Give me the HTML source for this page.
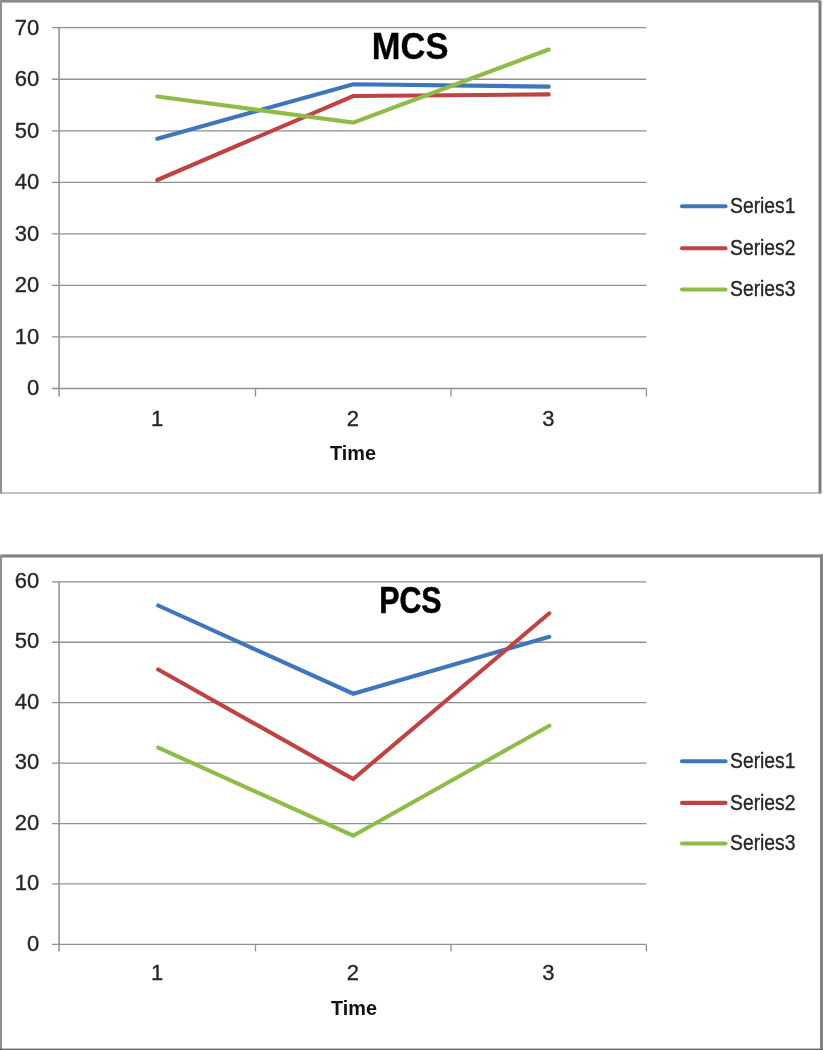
<!DOCTYPE html>
<html><head><meta charset="utf-8"><title>Charts</title>
<style>
html,body{margin:0;padding:0;background:#fff;}
svg{display:block;filter:blur(0.5px);}
text{font-family:"Liberation Sans",sans-serif;fill:#262626;}
.t{font-size:22px;stroke:#262626;stroke-width:0.35px;}
.tl{font-size:21.5px;stroke:#262626;stroke-width:0.35px;}
.tb{font-size:20px;font-weight:bold;fill:#111;}
.ti{font-size:36.5px;font-weight:bold;fill:#000;stroke:#000;stroke-linejoin:round;}
.g{stroke:#909090;stroke-width:1.3;}
.ga{stroke:#9a9a9a;stroke-width:1.7;}
</style></head>
<body>
<svg width="823" height="1050" viewBox="0 0 823 1050">
<rect x="0" y="0" width="823" height="1050" fill="#fff"/>
<rect x="0" y="0" width="819" height="2.6" fill="#8a8a8a"/>
<rect x="0" y="0" width="2" height="493.5" fill="#909090"/>
<rect x="818.5" y="0.5" width="3" height="493" fill="#7e7e7e"/>
<rect x="0" y="492.4" width="821" height="1.2" fill="#999"/>
<line x1="52.1" y1="388.50" x2="646.4" y2="388.50" class="g"/>
<text x="39.3" y="395.40" class="t" text-anchor="end">0</text>
<line x1="52.1" y1="336.96" x2="646.4" y2="336.96" class="g"/>
<text x="39.3" y="343.86" class="t" text-anchor="end">10</text>
<line x1="52.1" y1="285.41" x2="646.4" y2="285.41" class="g"/>
<text x="39.3" y="292.31" class="t" text-anchor="end">20</text>
<line x1="52.1" y1="233.87" x2="646.4" y2="233.87" class="g"/>
<text x="39.3" y="240.77" class="t" text-anchor="end">30</text>
<line x1="52.1" y1="182.33" x2="646.4" y2="182.33" class="g"/>
<text x="39.3" y="189.23" class="t" text-anchor="end">40</text>
<line x1="52.1" y1="130.79" x2="646.4" y2="130.79" class="g"/>
<text x="39.3" y="137.69" class="t" text-anchor="end">50</text>
<line x1="52.1" y1="79.24" x2="646.4" y2="79.24" class="g"/>
<text x="39.3" y="86.14" class="t" text-anchor="end">60</text>
<line x1="52.1" y1="27.70" x2="646.4" y2="27.70" class="g"/>
<text x="39.3" y="34.60" class="t" text-anchor="end">70</text>
<line x1="59.1" y1="27.70" x2="59.1" y2="396.50" class="ga"/>
<line x1="255.50" y1="388.50" x2="255.50" y2="396.50" class="g"/>
<line x1="451.00" y1="388.50" x2="451.00" y2="396.50" class="g"/>
<line x1="646.40" y1="388.50" x2="646.40" y2="396.50" class="g"/>
<polyline points="157.3,138.8 353.2,84.2 548.7,86.6" fill="none" stroke="#3F75BB" stroke-width="4.1" stroke-linecap="round" stroke-linejoin="miter"/>
<polyline points="157.3,180.0 353.2,96.0 548.7,94.4" fill="none" stroke="#BF4343" stroke-width="4.1" stroke-linecap="round" stroke-linejoin="miter"/>
<polyline points="157.3,96.5 353.2,122.6 548.7,49.5" fill="none" stroke="#91BB49" stroke-width="4.1" stroke-linecap="round" stroke-linejoin="miter"/>
<text x="371.8" y="59.0" class="ti" style="stroke-width:0.3px" textLength="76.6" lengthAdjust="spacingAndGlyphs">MCS</text>
<text x="157.0" y="425.5" class="t" text-anchor="middle">1</text>
<text x="352.9" y="425.5" class="t" text-anchor="middle">2</text>
<text x="548.4" y="425.5" class="t" text-anchor="middle">3</text>
<text x="330" y="460" class="tb" textLength="46" lengthAdjust="spacingAndGlyphs">Time</text>
<line x1="682" y1="206.3" x2="725.5" y2="206.3" stroke="#3F75BB" stroke-width="4.1" stroke-linecap="round"/>
<text x="730" y="213.2" class="tl" textLength="65.5" lengthAdjust="spacingAndGlyphs">Series1</text>
<line x1="682" y1="248.3" x2="725.5" y2="248.3" stroke="#BF4343" stroke-width="4.1" stroke-linecap="round"/>
<text x="730" y="255.2" class="tl" textLength="65.5" lengthAdjust="spacingAndGlyphs">Series2</text>
<line x1="682" y1="289.5" x2="725.5" y2="289.5" stroke="#91BB49" stroke-width="4.1" stroke-linecap="round"/>
<text x="730" y="296.4" class="tl" textLength="65.5" lengthAdjust="spacingAndGlyphs">Series3</text>
<rect x="0.5" y="554.4" width="822.5" height="3.1" fill="#808080"/>
<rect x="0" y="555" width="2" height="495" fill="#909090"/>
<rect x="820" y="554.4" width="3" height="496" fill="#828282"/>
<rect x="0" y="1048.6" width="823" height="1.4" fill="#666"/>
<line x1="52.1" y1="944.40" x2="646.4" y2="944.40" class="g"/>
<text x="39.3" y="950.60" class="t" text-anchor="end">0</text>
<line x1="52.1" y1="883.97" x2="646.4" y2="883.97" class="g"/>
<text x="39.3" y="890.17" class="t" text-anchor="end">10</text>
<line x1="52.1" y1="823.53" x2="646.4" y2="823.53" class="g"/>
<text x="39.3" y="829.73" class="t" text-anchor="end">20</text>
<line x1="52.1" y1="763.10" x2="646.4" y2="763.10" class="g"/>
<text x="39.3" y="769.30" class="t" text-anchor="end">30</text>
<line x1="52.1" y1="702.67" x2="646.4" y2="702.67" class="g"/>
<text x="39.3" y="708.87" class="t" text-anchor="end">40</text>
<line x1="52.1" y1="642.23" x2="646.4" y2="642.23" class="g"/>
<text x="39.3" y="648.43" class="t" text-anchor="end">50</text>
<line x1="52.1" y1="581.80" x2="646.4" y2="581.80" class="g"/>
<text x="39.3" y="588.00" class="t" text-anchor="end">60</text>
<line x1="59.1" y1="581.80" x2="59.1" y2="951.40" class="ga"/>
<line x1="255.50" y1="944.40" x2="255.50" y2="951.40" class="g"/>
<line x1="451.00" y1="944.40" x2="451.00" y2="951.40" class="g"/>
<line x1="646.40" y1="944.40" x2="646.40" y2="951.40" class="g"/>
<polyline points="158.2,605.5 353.2,693.7 549.3,636.8" fill="none" stroke="#3F75BB" stroke-width="4.1" stroke-linecap="round" stroke-linejoin="miter"/>
<polyline points="158.2,669.5 353.2,779.1 549.3,613.3" fill="none" stroke="#BF4343" stroke-width="4.1" stroke-linecap="round" stroke-linejoin="miter"/>
<polyline points="158.2,747.6 353.2,835.7 549.3,725.7" fill="none" stroke="#91BB49" stroke-width="4.1" stroke-linecap="round" stroke-linejoin="miter"/>
<text x="379.2" y="613.1" class="ti" style="stroke-width:0.55px" textLength="62.4" lengthAdjust="spacingAndGlyphs">PCS</text>
<text x="157.0" y="980.2" class="t" text-anchor="middle">1</text>
<text x="352.9" y="980.2" class="t" text-anchor="middle">2</text>
<text x="548.4" y="980.2" class="t" text-anchor="middle">3</text>
<text x="331" y="1015" class="tb" textLength="46" lengthAdjust="spacingAndGlyphs">Time</text>
<line x1="682" y1="761.3" x2="725.5" y2="761.3" stroke="#3F75BB" stroke-width="4.1" stroke-linecap="round"/>
<text x="730" y="768.2" class="tl" textLength="65.5" lengthAdjust="spacingAndGlyphs">Series1</text>
<line x1="682" y1="802.9" x2="725.5" y2="802.9" stroke="#BF4343" stroke-width="4.1" stroke-linecap="round"/>
<text x="730" y="809.8" class="tl" textLength="65.5" lengthAdjust="spacingAndGlyphs">Series2</text>
<line x1="682" y1="843.5" x2="725.5" y2="843.5" stroke="#91BB49" stroke-width="4.1" stroke-linecap="round"/>
<text x="730" y="850.4" class="tl" textLength="65.5" lengthAdjust="spacingAndGlyphs">Series3</text>
</svg>
</body></html>
